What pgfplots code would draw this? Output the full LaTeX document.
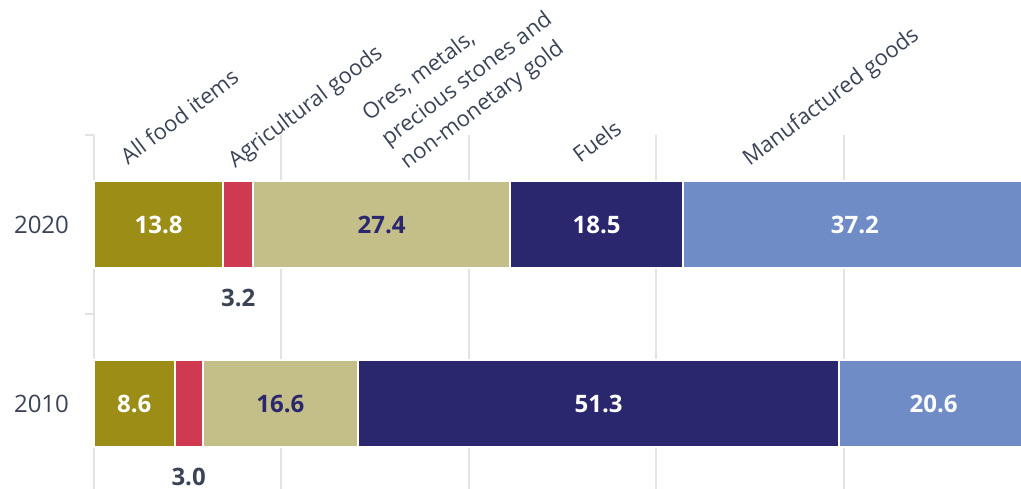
\documentclass[border=0pt]{standalone}
\usepackage{pgfplots}
\pgfplotsset{compat=1.18}
\usepackage{fontspec}
\setmainfont{Open Sans}
\definecolor{cFood}{HTML}{9B8D15}
\definecolor{cAgri}{HTML}{D03A50}
\definecolor{cOres}{HTML}{C4BE88}
\definecolor{cFuel}{HTML}{2A276E}
\definecolor{cManu}{HTML}{6F8CC6}
\definecolor{gridgray}{HTML}{E3E3E3}
\definecolor{labc}{HTML}{3A4456}
\tikzset{
  catlab/.style={font=\fontsize{11}{13}\selectfont, text=labc, rotate=37, anchor=base west, inner sep=0pt},
  vallab/.style={font=\fontsize{12}{14}\selectfont\bfseries},
}
\begin{document}
\begin{tikzpicture}
\path[use as bounding box] (-47pt,2.5pt) rectangle (463.5pt,246.5pt);
\clip (-47pt,2.5pt) rectangle (463.5pt,246.5pt);
\begin{axis}[
  at={(0pt,0pt)}, anchor=south west,
  scale only axis, width=468.5pt, height=179pt,
  xbar stacked, bar width=43.5pt,
  xmin=0, xmax=100, ymin=-0.5, ymax=1.5,
  ytick={0,1}, yticklabels={2010,2020},
  xtick={0,20,40,60,80,100}, xticklabels={},
  xmajorgrids, grid style={draw=gridgray, line width=1pt},
  axis line style={draw=none},
  major tick length=0pt,
  tick style={draw=none},
  yticklabel style={font=\fontsize{12}{14}\selectfont, text=labc, xshift=-9pt},
  extra y ticks={-0.5,0.5,1.5}, extra y tick labels={},
  extra y tick style={major tick length=4.5pt, tick align=outside,
    tick style={draw=gridgray, line width=1pt}},
  every axis plot/.append style={draw=white, line width=1pt},
  clip=false,
]
\addplot[fill=cFood] coordinates {(8.6,0) (13.8,1)};
\addplot[fill=cAgri] coordinates {(3.0,0) (3.2,1)};
\addplot[fill=cOres] coordinates {(16.6,0) (27.4,1)};
\addplot[fill=cFuel] coordinates {(51.3,0) (18.5,1)};
\addplot[fill=cManu] coordinates {(20.6,0) (37.2,1)};

\coordinate (a1) at (axis cs:6.9,1);
\coordinate (a2) at (axis cs:30.7,1);
\coordinate (a3) at (axis cs:53.65,1);
\coordinate (a4) at (axis cs:81.2,1);
\coordinate (a5) at (axis cs:15.4,0.589);
\coordinate (b1) at (axis cs:4.3,0);
\coordinate (b2) at (axis cs:19.9,0);
\coordinate (b3) at (axis cs:53.85,0);
\coordinate (b4) at (axis cs:89.6,0);
\coordinate (b5) at (axis cs:10.1,-0.41);

\node[catlab] at (axis cs:3.6,1.330) {All food items};
\node[catlab] at (axis cs:15.05,1.313) {Agricultural goods};
\node[catlab] at (axis cs:29.35,1.573) {Ores, metals,};
\node[catlab] at (axis cs:31.38,1.433) {precious stones and};
\node[catlab] at (axis cs:33.41,1.304) {non-monetary gold};
\node[catlab] at (axis cs:51.87,1.338) {Fuels};
\node[catlab] at (axis cs:69.95,1.321) {Manufactured goods};
\end{axis}
\node[vallab, text=white] at (a1) {13.8};
\node[vallab, text=cFuel] at (a2) {27.4};
\node[vallab, text=white] at (a3) {18.5};
\node[vallab, text=white] at (a4) {37.2};
\node[vallab, text=labc] at (a5) {3.2};
\node[vallab, text=white] at (b1) {8.6};
\node[vallab, text=cFuel] at (b2) {16.6};
\node[vallab, text=white] at (b3) {51.3};
\node[vallab, text=white] at (b4) {20.6};
\node[vallab, text=labc] at (b5) {3.0};
\end{tikzpicture}
\end{document}
